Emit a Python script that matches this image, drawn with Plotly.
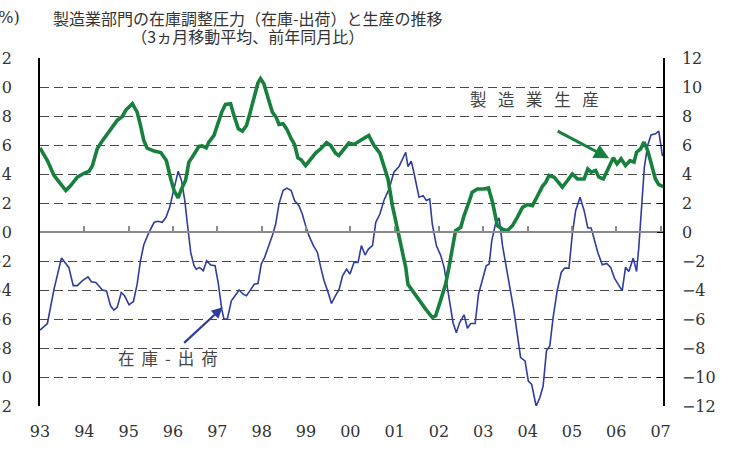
import plotly.graph_objects as go

# Months since Jan 1993 and values (%)
prod_months = [0, 2, 3.8, 5.6, 7, 8.3, 10.1, 11.9, 13.3, 14.2, 15.5, 16.9, 18.2, 19.6, 20.9, 22.3, 23.2, 25, 26.3, 27.2,
               28.1, 29, 30.9, 32.7, 33.6, 34.2, 35.4, 36.3, 37.4, 38.3, 39.4, 40.3, 41.2, 42.1, 43, 43.9, 45, 45.7, 47.1, 48,
               49.2, 50.2, 51.6, 52.5, 53.7, 54.8, 55.9, 56.8, 57.9, 59, 59.7, 60.6, 61.8, 62.9, 64, 64.7, 65.8, 66.9, 68, 68.9,
               69.8, 70.7, 71.9, 73.3, 74.6, 76, 77.6, 78.7, 80, 80.9, 82.1, 83.6, 85, 86.3, 87.7, 89, 90.4, 92, 93.1, 94.2,
               95.4, 96.7, 98.1, 99, 99.6, 100.5, 102.6, 104.4, 106.2, 107.1, 108.4, 109.8, 110.7, 111.6, 112.5, 113.9, 114.8, 116.1, 117, 118.4,
               120.2, 121.4, 122.5, 123.8, 125.2, 126.5, 127.9, 129.2, 130.6, 131.9, 133.3, 134.6, 136, 136.9, 137.8, 139.2, 140, 141.4, 142.8, 144.1,
               145.5, 147.3, 148.3, 149.2, 150.4, 151.3, 152.5, 153.7, 155.2, 156.2, 157.3, 158.5, 159.7, 160.8, 161.5, 162.6, 163.5, 164.5, 165.7, 166.6,
               167.5, 168.7]
prod_values = [5.8, 4.93, 3.9, 3.3, 2.86, 3.2, 3.78, 4.05, 4.19, 4.58, 5.74, 6.3, 6.73, 7.19, 7.7, 7.97, 8.39, 8.85, 8.27, 7.35,
               6.31, 5.78, 5.58, 5.48, 5.16, 4.93, 3.66, 2.86, 2.35, 2.97, 3.55, 4.82, 5.16, 5.5, 5.9, 5.94, 5.8, 6.2, 6.66, 7.35,
               8.27, 8.8, 8.85, 8.04, 7.12, 6.96, 7.35, 8.16, 9.19, 10.28, 10.58, 10.23, 9.19, 8.27, 7.88, 7.42, 7.47, 7.05, 6.43, 6.04,
               5.12, 4.98, 4.58, 4.98, 5.44, 5.74, 6.17, 5.97, 5.44, 5.28, 5.62, 6.13, 6.04, 6.27, 6.47, 6.66, 5.97, 5.44, 4.58, 3.66,
               1.82, 0.2, -1.29, -2.44, -3.6, -3.94, -4.63, -5.32, -5.9, -5.78, -4.75, -3.6, -2.44, -1.06, 0.09, 0.32, 1.13, 2.05, 2.74, 2.97,
               2.97, 3.04, 2.05, 0.44, 0.2, 0.09, 0.44, 1.01, 1.7, 1.89, 1.82, 2.45, 3.15, 3.43, 3.9, 3.78, 3.55, 3.09, 3.55, 4.0,
               3.66, 3.66, 4.35, 4.12, 4.24, 3.78, 3.66, 4.35, 5.12, 4.7, 5.05, 4.58, 4.93, 4.82, 5.5, 5.74, 6.2, 5.62, 4.47, 3.66,
               3.27, 3.13]

inv_months = [0, 2, 3.8, 5.8, 7.8, 9, 10.1, 11.5, 13, 13.9, 15.1, 16.9, 18, 19.1, 20, 20.9, 22, 22.9, 24.1, 25.3,
              26.3, 27.2, 28.1, 29.5, 30.9, 31.9, 33.1, 34.1, 35.1, 36.3, 37.4, 38.3, 39.2, 39.9, 40.8, 41.7, 42.3, 43.2, 44.2, 45.1,
              46.2, 47.4, 48.3, 49.2, 49.8, 50.7, 51.8, 52.8, 53.9, 55, 55.9, 56.8, 58, 59, 59.9, 60.8, 61.8, 62.9, 63.8, 64.7,
              65.8, 66.8, 68, 68.9, 70.1, 71, 71.9, 72.8, 74, 75.1, 76, 76.9, 78, 78.9, 79.8, 81, 81.9, 83, 83.9, 85,
              86.1, 87, 88, 88.9, 90, 90.9, 92, 93.1, 94.5, 95.8, 97.2, 98.1, 99, 99.6, 100.5, 101.2, 101.9, 102.6, 103.7, 104.6,
              105.5, 106.2, 107.3, 108.5, 109.4, 110.3, 111.2, 111.8, 112.7, 113.6, 114.8, 115.7, 116.6, 117.8, 118.7, 119.7, 120.8, 121.6, 122.3, 123.4,
              124.3, 125.2, 126, 127, 128.3, 129.2, 130.1, 131.3, 132.2, 133.1, 134.3, 135.3, 136.2, 137.1, 138, 138.9, 140, 141.1, 142, 143.2,
              144.1, 145, 146.2, 147.3, 148.3, 149.2, 150.1, 151, 152.2, 153.4, 154.5, 155.5, 156.5, 157.6, 158.5, 159.4, 160.6, 161.5, 162.1, 162.8,
              163.6, 164.5, 165.4, 166.6, 167.5, 168.5]
inv_values = [-6.77, -6.31, -3.94, -1.8, -2.44, -3.7, -3.7, -3.36, -3.09, -3.43, -3.48, -4.0, -4.06, -5.09, -5.39, -5.2, -4.17, -4.4, -5.02, -4.79,
              -3.6, -1.98, -0.88, -0.02, 0.67, 0.74, 0.67, 1.01, 1.7, 3.09, 4.19, 3.55, 2.17, 0.55, -1.41, -2.33, -2.56, -2.44, -2.67, -1.98,
              -2.28, -2.33, -3.6, -5.32, -6.01, -6.01, -4.75, -4.4, -4.0, -4.29, -4.4, -4.06, -3.6, -3.55, -2.21, -1.75, -1.06, -0.25, 0.55, 1.94,
              2.86, 3.03, 2.86, 2.17, 1.82, 1.24, 0.44, -0.25, -0.94, -1.41, -2.44, -3.36, -4.17, -4.93, -4.47, -3.94, -3.02, -2.56, -2.9, -2.1,
              -2.1, -0.94, -1.59, -1.18, -0.94, 0.67, 1.24, 2.17, 2.97, 4.12, 4.52, 4.98, 5.5, 4.52, 4.88, 4.12, 3.3, 2.4, 2.51, 2.17,
              2.28, 0.55, -0.94, -1.64, -2.44, -3.82, -5.21, -6.24, -6.94, -6.24, -5.71, -6.64, -6.31, -6.31, -4.29, -3.36, -2.33, -2.21, -0.6, 0.67,
              0.97, -0.94, -2.1, -3.82, -5.44, -7.05, -8.66, -8.89, -10.28, -10.51, -12.0, -11.43, -10.62, -8.2, -7.86, -5.9, -4.06, -2.79, -2.49, -2.49,
              -0.14, 1.47, 2.4, 1.47, 0.28, 0.28, -0.6, -1.41, -2.26, -2.17, -2.44, -3.18, -3.6, -4.06, -2.44, -2.72, -1.8, -2.72, -1.06, 1.47,
              4.47, 5.97, 6.7, 6.77, 6.96, 5.24]

year_ticks = list(range(1993, 2008))
year_labels = ["93", "94", "95", "96", "97", "98", "99", "00", "01", "02", "03", "04", "05", "06", "07"]
y_ticks = list(range(-12, 13, 2))

prod_x = [1993 + m / 12 for m in prod_months]
inv_x = [1993 + m / 12 for m in inv_months]

BLUE = "#2f3d9c"
GREEN = "#17803c"
SERIF = "DejaVu Serif"
JP = "Noto Sans CJK JP"
TXT = "#333333"

fig = go.Figure()
fig.add_trace(go.Scatter(x=inv_x, y=inv_values, mode="lines", name="在庫−出荷",
                         line=dict(color=BLUE, width=1.6), xaxis="x", yaxis="y"))
fig.add_trace(go.Scatter(x=prod_x, y=prod_values, mode="lines", name="製造業生産",
                         line=dict(color=GREEN, width=3.6), xaxis="x2", yaxis="y2"))

xr = [1993, 2007.054]
fig.update_layout(
    width=733, height=451,
    margin=dict(l=40, r=70, t=58, b=45, autoexpand=False),
    paper_bgcolor="white", plot_bgcolor="white",
    showlegend=False,
    xaxis=dict(range=xr, tickvals=year_ticks, ticktext=year_labels, showgrid=False, showline=False,
               zeroline=False, ticks="", tickfont=dict(family=SERIF, size=16, color=TXT),
               ticklabelstandoff=14, automargin=False),
    xaxis2=dict(range=xr, overlaying="x", anchor="free", position=0.5, side="bottom",
                showline=True, linecolor="#8a8a8a", linewidth=1.5, ticks="inside", ticklen=5,
                tickcolor="#8a8a8a", tickwidth=1.5, tickvals=year_ticks, showticklabels=False,
                showgrid=False, zeroline=False, automargin=False),
    yaxis=dict(range=[-12, 12], tickvals=y_ticks, showgrid=True, gridcolor="#4a4a4a", gridwidth=1,
               griddash="9px,5px", zeroline=True, zerolinecolor="#8a8a8a", zerolinewidth=1.5,
               showline=True, linecolor="black", linewidth=1.5, ticks="",
               tickfont=dict(family=SERIF, size=16, color=TXT), ticklabelstandoff=23, automargin=False),
    yaxis2=dict(range=[-12, 12], tickvals=y_ticks, overlaying="y", side="right", anchor="x",
                showgrid=False, zeroline=False, showline=True, linecolor="black", linewidth=1.5,
                ticks="inside", ticklen=6, tickcolor="black",
                tickfont=dict(family=SERIF, size=16, color=TXT), ticklabelstandoff=14, automargin=False),
)

title_text = ("<span style='font-size:16px'>製造業部門の在庫調整圧力（在庫-出荷）と生産の推移</span><br>"
              "<span style='font-size:16px'>（3ヵ月移動平均、前年同月比）</span>")

annotations = [
    dict(text=title_text, xref="paper", yref="paper",
         x=0.334, y=1.09, xanchor="center", yanchor="middle", showarrow=False,
         font=dict(family=JP, size=13.6, color=TXT)),
    dict(text="(%)", xref="paper", yref="paper", x=-0.029, y=1.115, xanchor="right", yanchor="middle",
         showarrow=False, font=dict(family=SERIF, size=16, color=TXT)),
    dict(text="製\u2002\u2009造\u2002\u2009業\u2002\u2009生\u2002\u2009産", xref="x", yref="y", x=2004.15, y=9.17,
         xanchor="center", yanchor="middle", showarrow=False, font=dict(family=JP, size=16.5, color="#444444")),
    dict(text="在 \u2009庫 \u2009- \u2009出 \u2009荷", xref="x", yref="y", x=1995.89, y=-8.69,
         xanchor="center", yanchor="middle", showarrow=False, font=dict(family=JP, size=16.5, color="#444444")),
    dict(text="", xref="x", yref="y", x=2005.84, y=5.08, ax=-53, ay=-28, showarrow=True,
         arrowhead=2, arrowsize=1, arrowwidth=3, arrowcolor=GREEN),
    dict(text="", xref="x", yref="y", x=1997.12, y=-5.19, ax=-40, ay=37, showarrow=True,
         arrowhead=2, arrowsize=1, arrowwidth=2.2, arrowcolor=BLUE),
]
fig.update_layout(annotations=annotations)

fig.write_html("out.html", config={"displayModeBar": False},
               post_script="document.body.style.margin='0px';")
